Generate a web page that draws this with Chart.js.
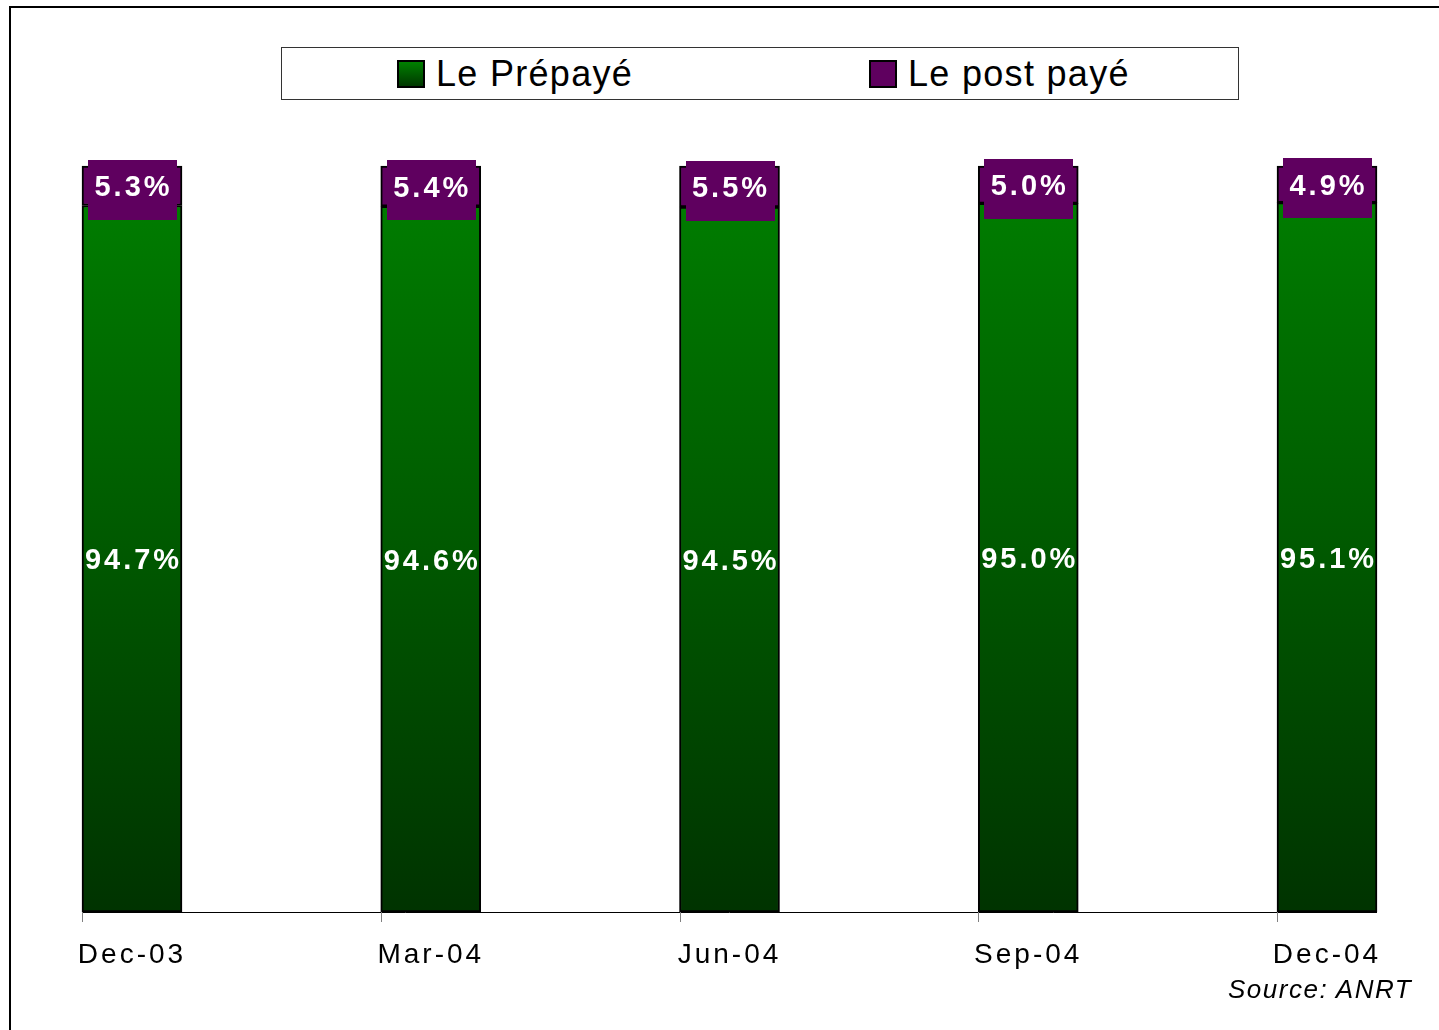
<!DOCTYPE html>
<html>
<head>
<meta charset="utf-8">
<script src="https://cdn.jsdelivr.net/npm/chart.js@4.4.1/dist/chart.umd.min.js"></script>
<style>
  html, body { margin: 0; padding: 0; background: #fff; }
  #wrap { position: relative; width: 1439px; height: 1030px; overflow: hidden; font-family: "Liberation Sans", Arial, sans-serif; }
  #frame { position: absolute; left: 9px; top: 6px; width: 2000px; height: 2000px; border-left: 2px solid #000; border-top: 2px solid #000; }
  canvas { position: absolute; left: 0; top: 0; }
  #legend { position: absolute; left: 281px; top: 47px; width: 956px; height: 51px; border: 1px solid #333; background: #fff; }
  .item { position: absolute; top: 0; height: 51px; display: flex; align-items: center; font-size: 36px; letter-spacing: 1.3px; color: #000; }
  .sw { width: 24px; height: 24px; border: 2px solid #000; margin-right: 11px; }
  #source { position: absolute; left: 1228px; top: 974px; font-size: 26px; font-style: italic; letter-spacing: 1.5px; color: #000; }
</style>
</head>
<body>
<div id="wrap">
  <div id="frame"></div>
  <canvas id="c" width="1439" height="1030"></canvas>
  <div id="legend"></div>
  <div id="source">Source: ANRT</div>
</div>
<script>
const categories = ["Dec-03", "Mar-04", "Jun-04", "Sep-04", "Dec-04"];
const prepaidValues = [94.7, 94.6, 94.5, 95.0, 95.1];
const postpaidValues = [5.3, 5.4, 5.5, 5.0, 4.9];
const seriesNames = ["Le Prépayé", "Le post payé"];

const PURPLE = "#5f005f";
const FONT = '"Liberation Sans", Arial, sans-serif';

// legend (HTML text)
const legend = document.getElementById('legend');
const legendItems = [
  { name: seriesNames[0], left: 115, bg: 'linear-gradient(#008000, #003800)' },
  { name: seriesNames[1], left: 587, bg: PURPLE }
];
legendItems.forEach(it => {
  const d = document.createElement('div');
  d.className = 'item';
  d.style.left = it.left + 'px';
  const s = document.createElement('div');
  s.className = 'sw';
  s.style.background = it.bg;
  d.appendChild(s);
  d.appendChild(document.createTextNode(it.name));
  legend.appendChild(d);
});

function greenGradient(ctx) {
  const chart = ctx.chart;
  const area = chart.chartArea;
  if (!area) return '#006000';
  const g = chart.ctx.createLinearGradient(0, area.top, 0, area.bottom);
  g.addColorStop(0, '#008000');
  g.addColorStop(1, '#003300');
  return g;
}

const overlay = {
  id: 'overlay',
  afterDatasetsDraw(chart) {
    const ctx = chart.ctx;
    const xs = chart.scales.x;
    const area = chart.chartArea;
    const half = 50;
    ctx.save();
    // axis line
    ctx.strokeStyle = '#000';
    ctx.lineWidth = 1;
    ctx.beginPath();
    ctx.moveTo(xs.getPixelForValue(0) - half, area.bottom + 0.5);
    ctx.lineTo(xs.getPixelForValue(categories.length - 1) + half, area.bottom + 0.5);
    ctx.stroke();
    // ticks at left edges
    ctx.strokeStyle = '#808080';
    categories.forEach((c, i) => {
      const x = Math.round(xs.getPixelForValue(i) - half) + 0.5;
      ctx.beginPath();
      ctx.moveTo(x, area.bottom);
      ctx.lineTo(x, area.bottom + 10);
      ctx.stroke();
    });
    // category labels
    ctx.fillStyle = '#000';
    ctx.font = '28px ' + FONT;
    ctx.letterSpacing = '3px';
    ctx.textAlign = 'center';
    ctx.textBaseline = 'alphabetic';
    categories.forEach((c, i) => {
      ctx.fillText(c, xs.getPixelForValue(i) + 0, area.bottom + 51);
    });
    // data labels
    const m0 = chart.getDatasetMeta(0);
    const m1 = chart.getDatasetMeta(1);
    ctx.font = 'bold 29px ' + FONT;
    ctx.letterSpacing = '3px';
    const cap = 29 * 0.716;
    m0.data.forEach((bar, i) => {
      const cx = bar.x;
      const cy = (bar.y + bar.base) / 2;
      ctx.fillStyle = '#fff';
      ctx.fillText(prepaidValues[i].toFixed(1) + '%', cx + 1.5, cy + cap / 2);
    });
    m1.data.forEach((bar, i) => {
      const cx = bar.x;
      const cy = (bar.y + bar.base) / 2;
      ctx.fillStyle = PURPLE;
      ctx.fillRect(Math.round(cx - 44), Math.round(cy - 26), 89, 60);
      ctx.fillStyle = '#fff';
      ctx.fillText(postpaidValues[i].toFixed(1) + '%', cx + 1.5, cy + cap / 2);
    });
    ctx.restore();
  }
};

new Chart(document.getElementById('c'), {
  type: 'bar',
  data: {
    labels: categories,
    datasets: [
      { label: seriesNames[0], data: prepaidValues, backgroundColor: greenGradient, borderColor: '#000', borderWidth: 2, borderSkipped: false, barThickness: 100, clip: false },
      { label: seriesNames[1], data: postpaidValues, backgroundColor: PURPLE, borderColor: '#000', borderWidth: 2, borderSkipped: false, barThickness: 100, clip: false }
    ]
  },
  options: {
    responsive: false,
    animation: false,
    devicePixelRatio: 1,
    layout: { padding: { left: 132, right: 112, top: 166, bottom: 118 } },
    plugins: { legend: { display: false }, tooltip: { enabled: false } },
    scales: {
      x: { stacked: true, offset: false, display: false },
      y: { stacked: true, min: 0, max: 100, display: false }
    }
  },
  plugins: [overlay]
});
</script>
</body>
</html>
